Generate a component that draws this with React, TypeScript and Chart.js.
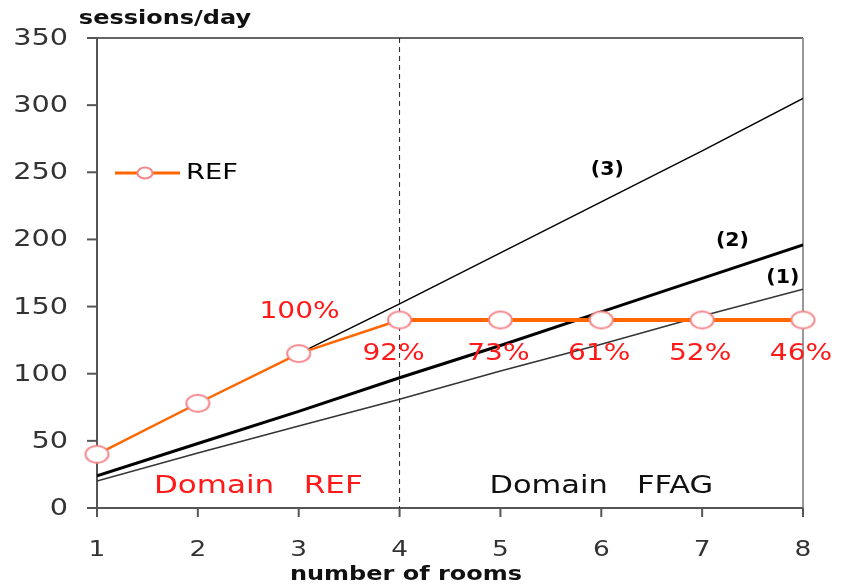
import React, { useEffect, useRef } from 'react';
import { Chart, registerables } from 'chart.js';

Chart.register(...registerables);

// ---- data ----
const rooms = [1, 2, 3, 4, 5, 6, 7, 8];
const refSessions = [40, 78, 115, 140, 140, 140, 140, 140];
const curve3 = [null, null, 115, 152, 190, 228, 266, 305];
const curve2 = [24, 48, 72, 97, 121, 146, 171, 196];
const curve1 = [20, 41, 61, 81, 102, 122, 143, 163];
const yTicks = [0, 50, 100, 150, 200, 250, 300, 350];
const xTicks = [1, 2, 3, 4, 5, 6, 7, 8];
const shareLabels = ['92%', '73%', '61%', '52%', '46%'];
const shareRooms = [4, 5, 6, 7, 8];
const fullShareLabel = '100%';
const curveLabels = ['(3)', '(2)', '(1)'];
const curveLabelX = [6.06, 7.3, 7.8];
const curveLabelY = [252, 199, 171];
const domainBoundary = 4;

const FONT = '"DejaVu Sans", Verdana, sans-serif';

function txt(
  ctx: CanvasRenderingContext2D,
  s: string,
  x: number,
  y: number,
  size: number,
  color: string,
  align: CanvasTextAlign = 'center',
  weight = 'normal',
  sx = 1.22
) {
  ctx.save();
  ctx.translate(x, y);
  ctx.scale(sx, 1);
  ctx.font = `${weight} ${size}px ${FONT}`;
  ctx.fillStyle = color;
  ctx.textAlign = align;
  ctx.textBaseline = 'middle';
  ctx.fillText(s, 0, 0);
  ctx.restore();
}

const toXY = (arr: (number | null)[]) =>
  rooms
    .map((r, i) => ({ x: r, y: arr[i] }))
    .filter((p) => p.y !== null) as { x: number; y: number }[];

function makeMarker(rx: number, ry: number) {
  const c = document.createElement('canvas');
  c.width = Math.ceil(rx * 2 + 4);
  c.height = Math.ceil(ry * 2 + 4);
  const g = c.getContext('2d')!;
  g.beginPath();
  g.ellipse(c.width / 2, c.height / 2, rx, ry, 0, 0, Math.PI * 2);
  g.fillStyle = '#fff';
  g.fill();
  g.strokeStyle = '#f4868a';
  g.lineWidth = 2;
  g.stroke();
  return c;
}

const decor = {
  id: 'decor',
  beforeDatasetsDraw(chart: any) {
    const { ctx, chartArea: a, scales } = chart;
    const xs = scales.x;
    const ys = scales.y;
    ctx.save();
    ctx.strokeStyle = '#666';
    ctx.lineWidth = 2;
    ctx.beginPath();
    ctx.moveTo(a.left, a.top);
    ctx.lineTo(a.right, a.top);
    ctx.stroke();
    ctx.strokeStyle = '#999';
    ctx.beginPath();
    ctx.moveTo(a.right, a.top);
    ctx.lineTo(a.right, a.bottom);
    ctx.stroke();
    ctx.strokeStyle = '#555';
    ctx.beginPath();
    ctx.moveTo(a.left, a.top);
    ctx.lineTo(a.left, a.bottom);
    ctx.lineTo(a.right, a.bottom);
    ctx.stroke();
    yTicks.forEach((v) => {
      const py = ys.getPixelForValue(v);
      ctx.beginPath();
      ctx.moveTo(a.left - 10, py);
      ctx.lineTo(a.left, py);
      ctx.stroke();
      txt(ctx, String(v), a.left - 29, py + 1, 23, '#333', 'right', 'normal', 1.25);
    });
    xTicks.forEach((v) => {
      const px = xs.getPixelForValue(v);
      ctx.beginPath();
      ctx.moveTo(px, a.bottom);
      ctx.lineTo(px, a.bottom + 9);
      ctx.stroke();
      txt(ctx, String(v), px, a.bottom + 42, 22, '#333', 'center', 'normal', 1.2);
    });
    const bx = xs.getPixelForValue(domainBoundary);
    ctx.strokeStyle = '#222';
    ctx.lineWidth = 1;
    ctx.setLineDash([5, 4]);
    ctx.beginPath();
    ctx.moveTo(bx, a.top);
    ctx.lineTo(bx, a.bottom);
    ctx.stroke();
    ctx.setLineDash([]);
    ctx.restore();
  },
  afterDatasetsDraw(chart: any) {
    const { ctx, scales } = chart;
    const xs = scales.x;
    const ys = scales.y;
    const red = '#ff1a1a';
    txt(ctx, 'sessions/day', 165, 19, 20, '#111', 'center', 'bold', 1.2);
    txt(ctx, 'number of rooms', 406, 575, 20, '#111', 'center', 'bold', 1.2);
    const p4x = xs.getPixelForValue(shareRooms[0]);
    const p4y = ys.getPixelForValue(refSessions[3]);
    txt(ctx, fullShareLabel, p4x - 100, p4y - 8, 23, red);
    shareLabels.forEach((s, i) => {
      const r = shareRooms[i];
      const px = xs.getPixelForValue(r) - (i === 0 ? 6 : 2);
      const py = ys.getPixelForValue(refSessions[r - 1]) + 34;
      txt(ctx, s, px, py, 23, red);
    });
    curveLabels.forEach((s, i) => {
      txt(ctx, s, xs.getPixelForValue(curveLabelX[i]), ys.getPixelForValue(curveLabelY[i]), 19, '#000', 'center', 'bold', 1.08);
    });
    const dy = ys.getPixelForValue(16);
    txt(ctx, 'Domain   REF', xs.getPixelForValue(2.6), dy, 25, red, 'center', 'normal', 1.24);
    txt(ctx, 'Domain   FFAG', xs.getPixelForValue(6.0), dy, 25, '#111', 'center', 'normal', 1.22);
    ctx.save();
    ctx.strokeStyle = '#ff6600';
    ctx.lineWidth = 3;
    ctx.beginPath();
    ctx.moveTo(115, 173);
    ctx.lineTo(180, 173);
    ctx.stroke();
    ctx.beginPath();
    ctx.ellipse(145, 173, 7.5, 5.5, 0, 0, Math.PI * 2);
    ctx.fillStyle = '#fff';
    ctx.fill();
    ctx.strokeStyle = '#f4868a';
    ctx.lineWidth = 2;
    ctx.stroke();
    ctx.restore();
    txt(ctx, 'REF', 186, 174, 21, '#000', 'left', 'normal', 1.3);
  },
};

export default function App() {
  const ref = useRef<HTMLCanvasElement>(null);
  useEffect(() => {
    if (!ref.current) return;
    const marker = makeMarker(11.5, 8.5);
    const chart = new Chart(ref.current, {
      type: 'line',
      data: {
        datasets: [
          {
            label: 'REF',
            data: toXY(refSessions),
            borderColor: '#ff6600',
            backgroundColor: '#fff',
            borderWidth: 2.5,
            segment: {
              borderWidth: (c: any) => (c.p0.parsed.x >= 4 ? 4 : 2.5),
            },
            pointStyle: marker as any,
            pointRadius: 10,
            clip: false as any,
          },
          {
            label: '(3)',
            data: toXY(curve3),
            borderColor: '#000',
            borderWidth: 1.5,
            pointRadius: 0,
          },
          {
            label: '(2)',
            data: toXY(curve2),
            borderColor: '#000',
            borderWidth: 3,
            pointRadius: 0,
          },
          {
            label: '(1)',
            data: toXY(curve1),
            borderColor: '#333',
            borderWidth: 1.5,
            pointRadius: 0,
          },
        ],
      },
      options: {
        animation: false,
        responsive: true,
        maintainAspectRatio: false,
        layout: { padding: { left: 97, right: 38, top: 38, bottom: 80 } },
        plugins: { legend: { display: false }, tooltip: { enabled: false } },
        scales: {
          x: { type: 'linear', min: 1, max: 8, display: false },
          y: { min: 0, max: 350, display: false },
        },
      },
      plugins: [decor],
    });
    return () => chart.destroy();
  }, []);
  return (
    <div style={{ position: 'absolute', left: 0, top: 0, width: 841, height: 588, background: '#fff' }}>
      <canvas ref={ref} />
    </div>
  );
}
